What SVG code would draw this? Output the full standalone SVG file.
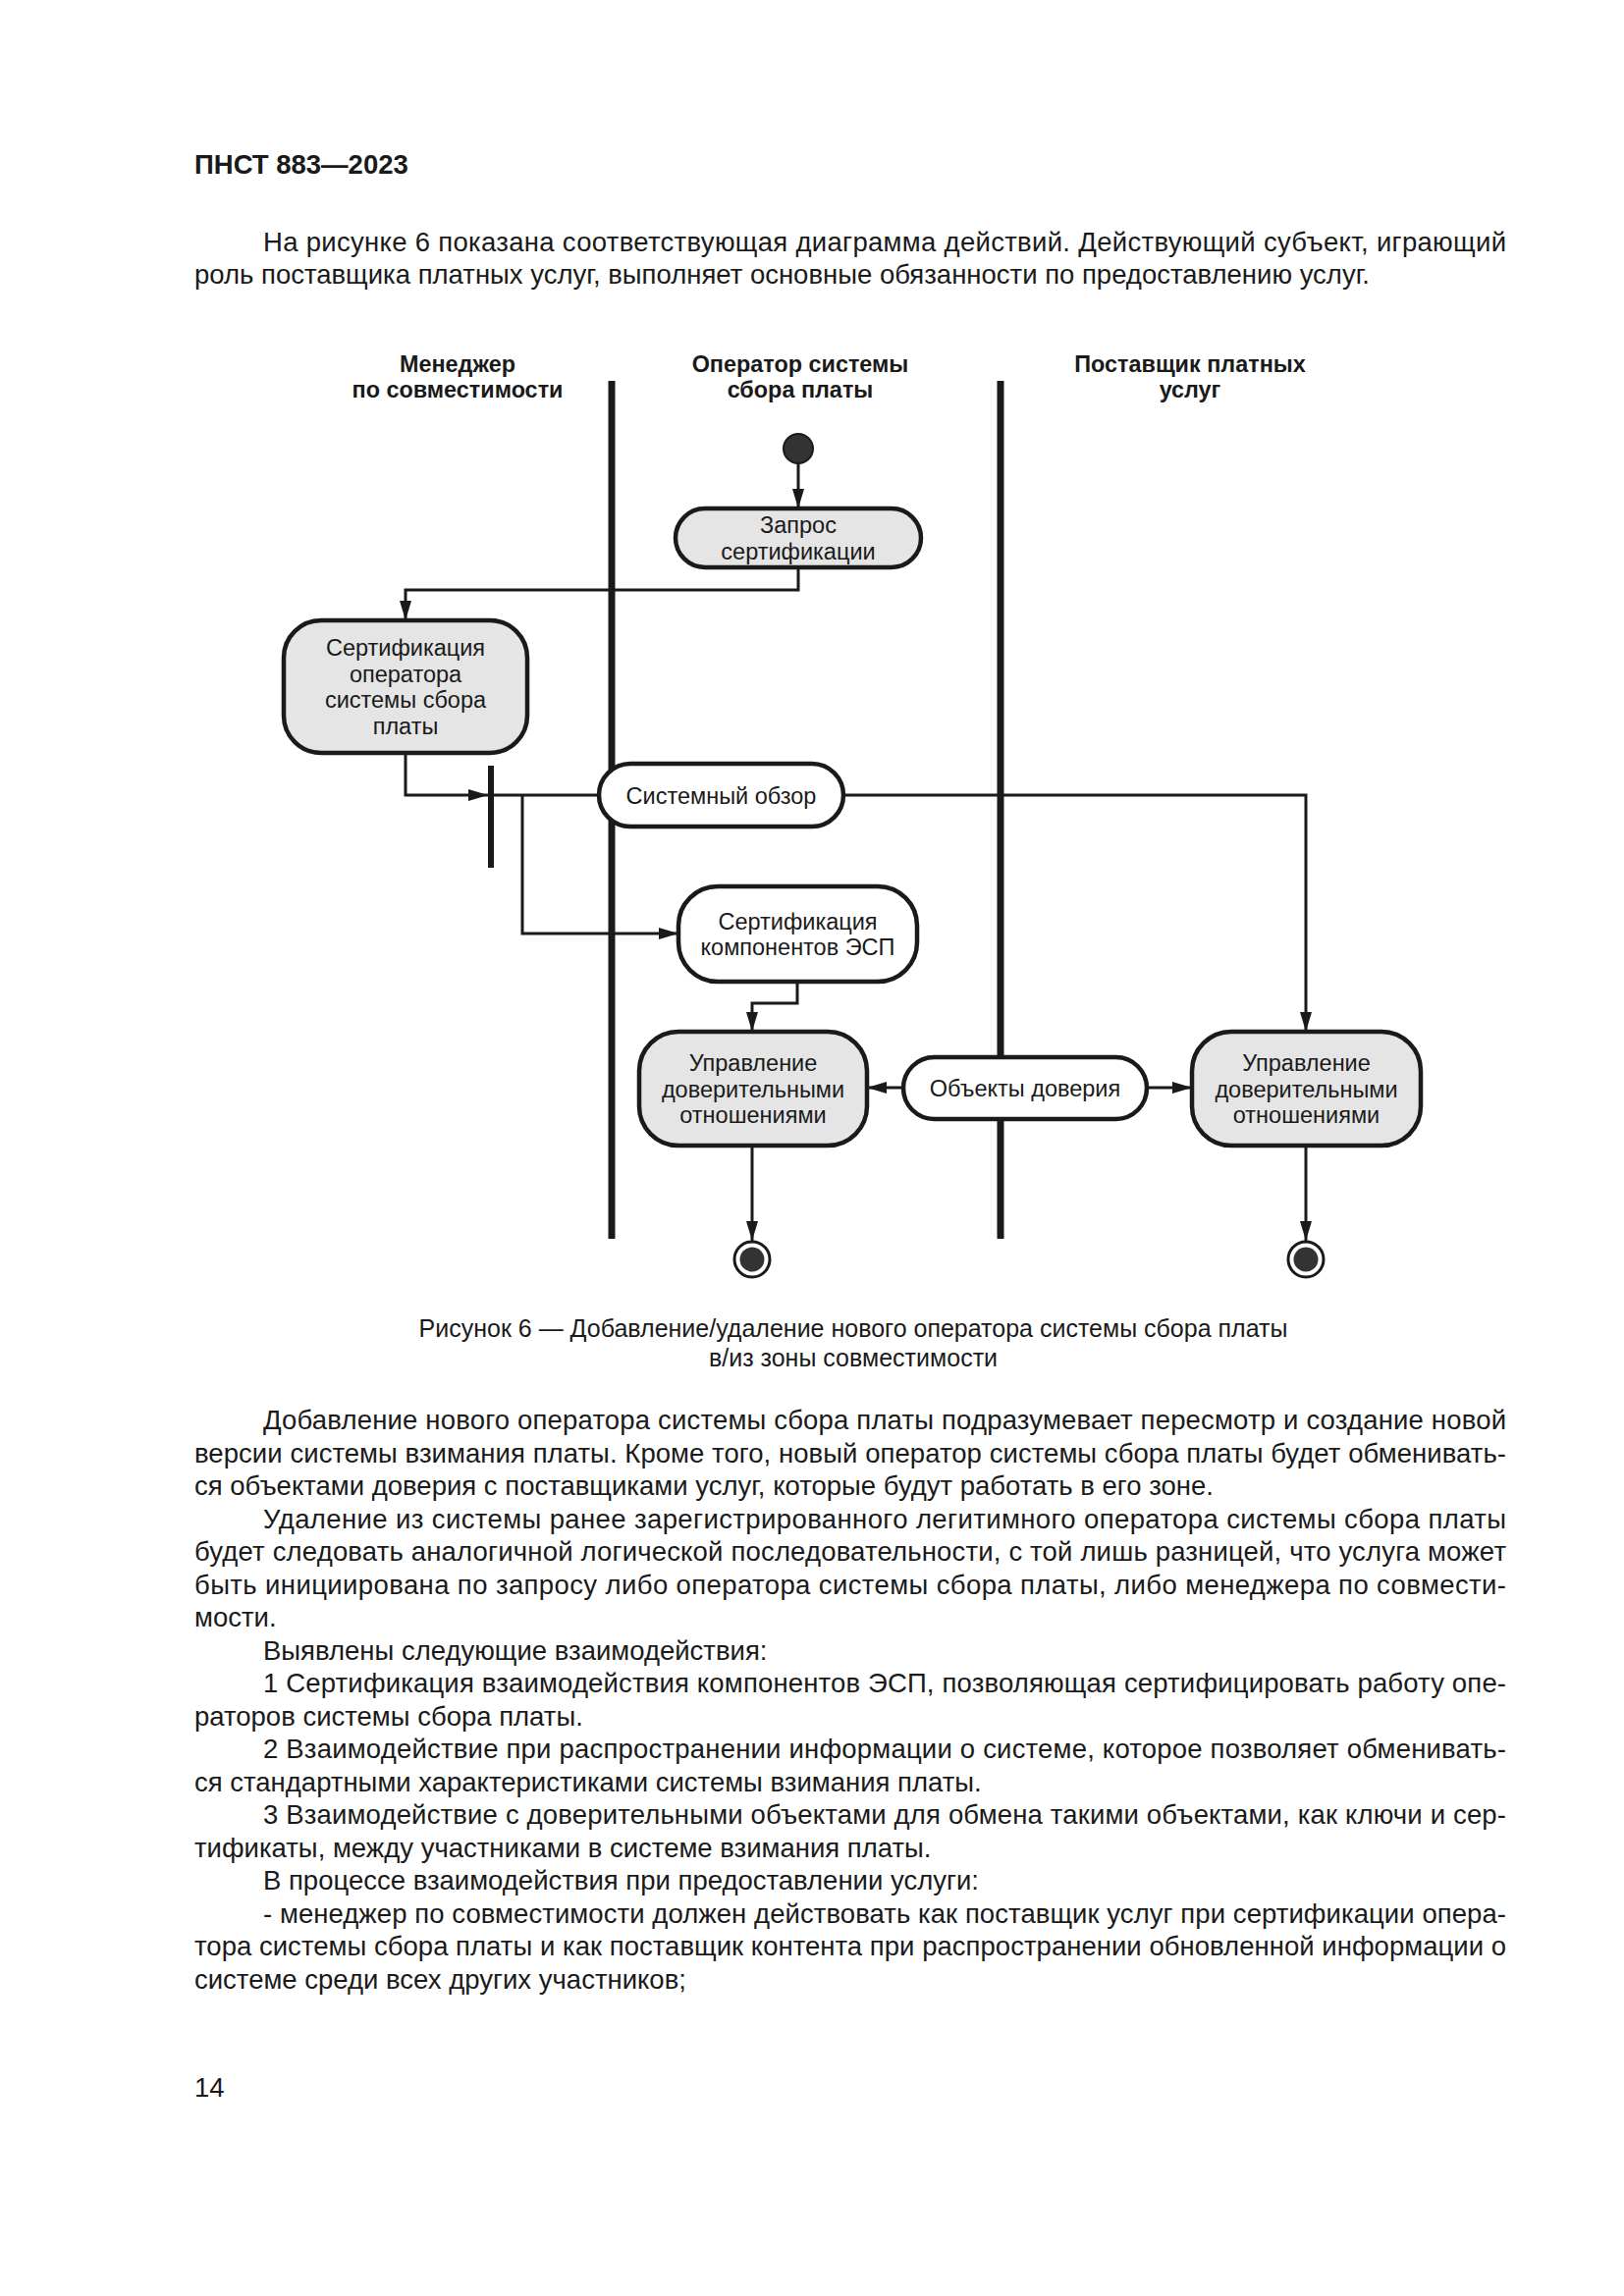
<svg xmlns="http://www.w3.org/2000/svg" width="1654" height="2339" viewBox="0 0 1654 2339">
<style>
  .pg { font-family: "Liberation Sans", Arial, sans-serif; font-size: 27.5px; fill: #1a1a1a; }
  .hd { font-family: "Liberation Sans", Arial, sans-serif; font-size: 27.5px; font-weight: bold; fill: #1a1a1a; }
  .lane { font-family: "Liberation Sans", Arial, sans-serif; font-size: 23.4px; font-weight: bold; fill: #1a1a1a; text-anchor: middle; }
  .nt { font-family: "Liberation Sans", Arial, sans-serif; font-size: 23.5px; fill: #1a1a1a; text-anchor: middle; }
  .cap { font-family: "Liberation Sans", Arial, sans-serif; font-size: 25px; fill: #1a1a1a; text-anchor: middle; }
  .act { fill: #e5e5e5; stroke: #1a1a1a; stroke-width: 4.5; }
  .obj { fill: #ffffff; stroke: #1a1a1a; stroke-width: 4.5; }
  .lanes line { stroke: #1a1a1a; stroke-width: 7; }
  .conn { fill: none; stroke: #1a1a1a; stroke-width: 3; }
  .arr { marker-end: url(#ah); }
</style>
<defs>
  <marker id="ah" markerUnits="userSpaceOnUse" markerWidth="20" markerHeight="12" refX="20" refY="6" orient="auto">
    <path d="M0,0 L20,6 L0,12 z" fill="#1a1a1a"/>
  </marker>
</defs>
<rect x="0" y="0" width="1654" height="2339" fill="#ffffff"/>

<text class="hd" x="198" y="177">ПНСТ 883—2023</text>
<text class="pg" x="268" y="256" textLength="1266" lengthAdjust="spacing">На рисунке 6 показана соответствующая диаграмма действий. Действующий субъект, играющий</text>
<text class="pg" x="198" y="289">роль поставщика платных услуг, выполняет основные обязанности по предоставлению услуг.</text>

<g id="lane-headers">
  <text class="lane" x="466" y="379">Менеджер</text>
  <text class="lane" x="466" y="405">по совместимости</text>
  <text class="lane" x="815" y="379">Оператор системы</text>
  <text class="lane" x="815" y="405">сбора платы</text>
  <text class="lane" x="1212" y="379">Поставщик платных</text>
  <text class="lane" x="1212" y="405">услуг</text>
</g>

<g class="lanes" id="swimlanes">
  <line x1="623" y1="388" x2="623" y2="1262"/>
  <line x1="1019" y1="388" x2="1019" y2="1262"/>
</g>

<g id="connectors">
  <path class="conn arr" d="M813,472 V518"/>
  <path class="conn arr" d="M813,578 V601 H413 V632"/>
  <path class="conn arr" d="M413,767 V810 H497"/>
  <path class="conn" d="M503,810 H610"/>
  <path class="conn arr" d="M859,810 H1330 V1051"/>
  <path class="conn arr" d="M532,810 V951 H691"/>
  <path class="conn arr" d="M812,1000 V1022 H766 V1051"/>
  <path class="conn arr" d="M920,1108 H883"/>
  <path class="conn arr" d="M1168,1108 H1214"/>
  <path class="conn arr" d="M766,1167 V1264"/>
  <path class="conn arr" d="M1330,1167 V1264"/>
</g>

<g id="start">
  <circle cx="813" cy="457" r="15" fill="#333333" stroke="#1a1a1a" stroke-width="2"/>
</g>

<g id="zapros">
  <rect class="act" x="688" y="518" width="250" height="60" rx="30"/>
  <text class="nt" x="813" y="543">Запрос</text>
  <text class="nt" x="813" y="569.5">сертификации</text>
</g>

<g id="cert-operator">
  <rect class="act" x="289" y="632" width="248" height="135" rx="38"/>
  <text class="nt" x="413" y="668">Сертификация</text>
  <text class="nt" x="413" y="694.5">оператора</text>
  <text class="nt" x="413" y="721">системы сбора</text>
  <text class="nt" x="413" y="747.5">платы</text>
</g>

<g id="fork">
  <rect x="497" y="780" width="6" height="104" fill="#1a1a1a"/>
</g>

<g id="system-overview">
  <rect class="obj" x="610" y="778" width="249" height="64" rx="32"/>
  <text class="nt" x="734.5" y="818.5">Системный обзор</text>
</g>

<g id="cert-components">
  <rect class="obj" x="691" y="903" width="243" height="97" rx="40"/>
  <text class="nt" x="812.5" y="946.5">Сертификация</text>
  <text class="nt" x="812.5" y="973">компонентов ЭСП</text>
</g>

<g id="trust-left">
  <rect class="act" x="651" y="1051" width="232" height="116" rx="40"/>
  <text class="nt" x="767" y="1091">Управление</text>
  <text class="nt" x="767" y="1117.5">доверительными</text>
  <text class="nt" x="767" y="1144">отношениями</text>
</g>

<g id="trust-objects">
  <rect class="obj" x="920" y="1077" width="248" height="63" rx="31.5"/>
  <text class="nt" x="1044" y="1117">Объекты доверия</text>
</g>

<g id="trust-right">
  <rect class="act" x="1214" y="1051" width="233" height="116" rx="40"/>
  <text class="nt" x="1330.5" y="1091">Управление</text>
  <text class="nt" x="1330.5" y="1117.5">доверительными</text>
  <text class="nt" x="1330.5" y="1144">отношениями</text>
</g>

<g id="end-left">
  <circle cx="766" cy="1283" r="18" fill="#ffffff" stroke="#1a1a1a" stroke-width="3"/>
  <circle cx="766" cy="1283" r="12.5" fill="#333333"/>
</g>
<g id="end-right">
  <circle cx="1330" cy="1283" r="18" fill="#ffffff" stroke="#1a1a1a" stroke-width="3"/>
  <circle cx="1330" cy="1283" r="12.5" fill="#333333"/>
</g>

<text class="cap" x="869" y="1362">Рисунок 6 — Добавление/удаление нового оператора системы сбора платы</text>
<text class="cap" x="869" y="1392">в/из зоны совместимости</text>

<g id="body" xml:space="preserve">
  <text class="pg" x="268" y="1456" textLength="1266" lengthAdjust="spacing">Добавление нового оператора системы сбора платы подразумевает пересмотр и создание новой</text>
  <text class="pg" x="198" y="1489.5" textLength="1336" lengthAdjust="spacing">версии системы взимания платы. Кроме того, новый оператор системы сбора платы будет обменивать-</text>
  <text class="pg" x="198" y="1523">ся объектами доверия с поставщиками услуг, которые будут работать в его зоне.</text>
  <text class="pg" x="268" y="1556.5" textLength="1266" lengthAdjust="spacing">Удаление из системы ранее зарегистрированного легитимного оператора системы сбора платы</text>
  <text class="pg" x="198" y="1590" textLength="1336" lengthAdjust="spacing">будет следовать аналогичной логической последовательности, с той лишь разницей, что услуга может</text>
  <text class="pg" x="198" y="1623.5" textLength="1336" lengthAdjust="spacing">быть инициирована по запросу либо оператора системы сбора платы, либо менеджера по совмести-</text>
  <text class="pg" x="198" y="1657">мости.</text>
  <text class="pg" x="268" y="1690.5">Выявлены следующие взаимодействия:</text>
  <text class="pg" x="268" y="1724" textLength="1266" lengthAdjust="spacing">1  Сертификация взаимодействия компонентов ЭСП, позволяющая сертифицировать работу опе-</text>
  <text class="pg" x="198" y="1757.5">раторов системы сбора платы.</text>
  <text class="pg" x="268" y="1791" textLength="1266" lengthAdjust="spacing">2  Взаимодействие при распространении информации о системе, которое позволяет обменивать-</text>
  <text class="pg" x="198" y="1824.5">ся стандартными характеристиками системы взимания платы.</text>
  <text class="pg" x="268" y="1858" textLength="1266" lengthAdjust="spacing">3  Взаимодействие с доверительными объектами для обмена такими объектами, как ключи и сер-</text>
  <text class="pg" x="198" y="1891.5">тификаты, между участниками в системе взимания платы.</text>
  <text class="pg" x="268" y="1925">В процессе взаимодействия при предоставлении услуги:</text>
  <text class="pg" x="268" y="1958.5" textLength="1266" lengthAdjust="spacing">-  менеджер по совместимости должен действовать как поставщик услуг при сертификации опера-</text>
  <text class="pg" x="198" y="1992" textLength="1336" lengthAdjust="spacing">тора системы сбора платы и как поставщик контента при распространении обновленной информации о</text>
  <text class="pg" x="198" y="2025.5">системе среди всех других участников;</text>
</g>

<text class="pg" x="198" y="2136">14</text>
</svg>
